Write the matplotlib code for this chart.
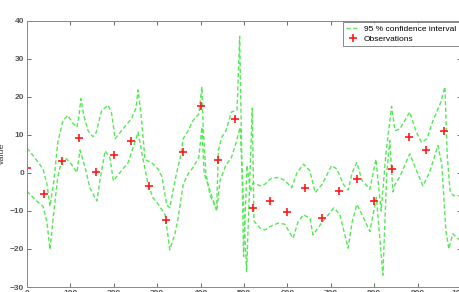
import matplotlib
matplotlib.use("Agg")
import matplotlib.pyplot as plt

# observations (red crosses)
obs_x = [0, 40, 80, 120, 160, 200, 240, 280, 320, 360, 400, 440, 480,
         520, 560, 600, 640, 680, 720, 760, 800, 840, 880, 920, 960]
obs_y = [1.4, -5.5, 3.2, 9.2, 0.3, 4.8, 8.5, -3.4, -12.3, 5.4, 17.5, 3.4, 14.2,
         -9.2, -7.5, -10.3, -4.0, -11.9, -4.8, -1.5, -7.4, 1.0, 9.4, 6.1, 11.1]

# upper bound of the 95 % interval
up_x = [0, 18, 37, 46, 53, 62, 71, 83, 94, 106, 115, 120, 124, 131, 141, 152, 159,
        172, 187, 195, 203, 218, 241, 251, 256, 263, 272, 287, 302, 311, 322, 329,
        341, 353, 360, 371, 383, 396, 403, 406, 412, 422, 437, 441, 449, 458, 471,
        484, 490, 499, 507, 515, 521, 537, 548, 562, 579, 594, 610, 622, 637, 652,
        664, 680, 702, 714, 729, 740, 749, 760, 772, 790, 804, 816, 827, 840, 848,
        859, 882, 896, 909, 922, 933, 952, 963, 968, 975, 983, 1000]
up_y = [6.5, 4.0, 1.0, -3.0, -8.8, -2.0, 8.0, 13.8, 15.1, 13.0, 12.0, 15.0, 19.5,
        15.0, 11.0, 9.5, 10.5, 16.4, 17.8, 15.6, 9.0, 11.1, 14.3, 17.0, 21.8, 15.0,
        3.5, 2.7, 1.0, -1.0, -8.5, -9.2, -2.0, 4.0, 9.0, 11.0, 13.8, 15.5, 22.6,
        12.0, 0.0, -6.0, -9.5, 6.0, 9.4, 11.0, 16.0, 16.5, 35.9, -22.0, 2.0, -5.0,
        -2.6, -3.4, -3.0, -1.5, -1.2, -2.0, -3.9, 0.0, 2.3, 0.5, -5.2, -3.0, 1.9,
        1.0, -3.0, -4.5, 0.0, 2.7, -2.0, -4.3, 3.6, -10.0, 5.0, 17.5, 11.1, 11.5,
        16.0, 11.0, 8.0, 9.0, 13.0, 18.2, 22.6, 5.0, -5.0, -6.0, -6.0]

# lower bound of the 95 % interval
lo_x = [0, 18, 37, 46, 53, 62, 71, 80, 91, 104, 115, 122, 134, 145, 161, 168, 180,
        191, 199, 210, 233, 244, 256, 265, 279, 290, 302, 318, 329, 341, 348, 360,
        371, 383, 396, 403, 408, 422, 437, 445, 458, 471, 482, 491, 506, 519, 523,
        537, 548, 562, 579, 594, 613, 624, 637, 652, 659, 680, 707, 721, 740, 749,
        760, 772, 790, 805, 820, 829, 836, 843, 848, 859, 882, 896, 912, 927, 947,
        956, 965, 972, 981, 1000]
lo_y = [-4.8, -7.0, -8.8, -13.0, -20.2, -10.0, -1.0, 3.2, 3.7, 2.0, 0.1, 6.0, 1.4,
        -4.0, -7.4, -2.0, 5.8, 4.0, -2.1, -0.5, 2.7, 6.5, 10.7, 5.0, -3.0, -6.5,
        -8.2, -10.9, -20.2, -16.0, -12.0, -3.0, -0.3, 1.5, 4.1, 12.0, 0.0, -4.8,
        -10.0, -2.0, 2.0, 4.0, 8.0, 12.0, -26.0, 17.0, -12.7, -14.5, -15.0, -14.0,
        -13.2, -13.5, -17.2, -13.0, -11.0, -12.0, -16.3, -13.0, -9.2, -11.0, -19.8,
        -13.0, -8.3, -11.0, -15.4, -6.5, -26.9, 0.0, 8.5, -5.0, -3.0, -1.0, 5.0,
        1.0, -3.4, 0.0, 7.2, 2.0, -15.0, -20.0, -16.0, -18.0]

plt.rcParams["font.family"] = ["Liberation Sans", "DejaVu Sans"]

fig = plt.figure(figsize=(4.59, 2.92), dpi=100)
ax = fig.add_axes([27 / 459, 1 - 287 / 292, 434 / 459, 266.3 / 292])

green = "#55e855"
dash = (0, (3, 1.8))
ax.plot(up_x, up_y, color=green, linestyle=dash, linewidth=1.0,
        label="95 % confidence interval")
ax.plot(lo_x, lo_y, color=green, linestyle=dash, linewidth=1.0)
ax.plot(obs_x, obs_y, linestyle="none", marker="+", color="#ff1a1a",
        markersize=5.5, markeredgewidth=1.2, label="Observations")

ax.set_xlim(0, 1000)
ax.set_ylim(-30, 40)
ax.set_xticks(range(0, 1001, 100))
ax.set_yticks(range(-30, 41, 10))
ax.tick_params(direction="in", length=3, width=0.6, colors="#555555",
               labelsize=6, top=True, right=True, pad=2)
for lab in ax.get_xticklabels() + ax.get_yticklabels():
    lab.set_fontweight("bold")
for s in ax.spines.values():
    s.set_color("#888888")
    s.set_linewidth(0.7)
ax.set_ylabel("Value", fontsize=6.5, color="#444444", labelpad=3)

leg = ax.legend(loc="upper right", bbox_to_anchor=(0.995, 0.995), fontsize=6,
                frameon=True, fancybox=False, borderaxespad=0.0,
                handlelength=1.6, handletextpad=0.5, borderpad=0.35,
                labelspacing=0.25)
leg.get_frame().set_edgecolor("#555555")
leg.get_frame().set_linewidth(0.6)

fig.savefig("out.png", dpi=100)
